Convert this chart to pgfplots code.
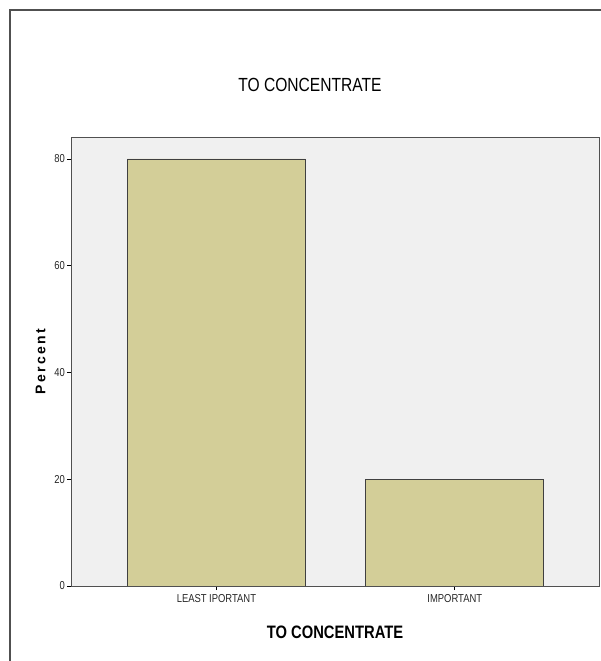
\documentclass[border=0pt]{standalone}
\usepackage{fontspec}
\setmainfont{Liberation Sans}[FakeStretch=0.82]
\newfontfamily\widefont{Liberation Sans}
\usepackage{pgfplots}
\pgfplotsset{compat=1.18}
\definecolor{bgc}{HTML}{F0F0F0}
\definecolor{barc}{HTML}{D3CE98}
\definecolor{framec}{HTML}{505050}
\begin{document}
\begin{tikzpicture}
\useasboundingbox (-71pt,-75pt) rectangle (530pt,586pt);
\draw[framec, line width=1.3pt] (-61pt,-80pt) -- (-61pt,576pt) -- (540pt,576pt);
\node[font=\fontsize{19}{22}\selectfont] at (239pt,501pt) {TO CONCENTRATE};
\begin{axis}[
    at={(0pt,0pt)}, anchor=south west,
    scale only axis,
    width=528pt, height=449pt,
    xmin=-0.61, xmax=1.605,
    ymin=0, ymax=84.1,
    axis background/.style={fill=bgc},
    axis line style={framec, line width=0.9pt},
    ytick={0,20,40,60,80},
    xtick={0,1},
    xticklabels={LEAST IPORTANT, IMPORTANT},
    tick align=outside,
    major tick length=4pt,
    tick style={black, line width=0.7pt},
    xtick pos=bottom, ytick pos=left,
    /pgf/number format/assume math mode=true,
    ticklabel style={font=\fontsize{11.5}{13}\selectfont, text=black!85},
    yticklabel style={xshift=1.5pt},
    xticklabel style={yshift=-0.5pt},
    ylabel={\widefont\bfseries P\,e\,r\,c\,e\,n\,t},
    ylabel style={font=\fontsize{14}{16}\selectfont, at={(axis description cs:0,0.5)}, anchor=south, xshift=0pt, yshift=22pt},
    xlabel={TO CONCENTRATE},
    xlabel style={font=\fontsize{18}{20}\selectfont\bfseries, yshift=-17pt},
]
\addplot[ybar, bar width=178pt, fill=barc, draw=black!75, line width=0.6pt]
  coordinates {(0,80) (1,20)};
\end{axis}
\end{tikzpicture}
\end{document}
